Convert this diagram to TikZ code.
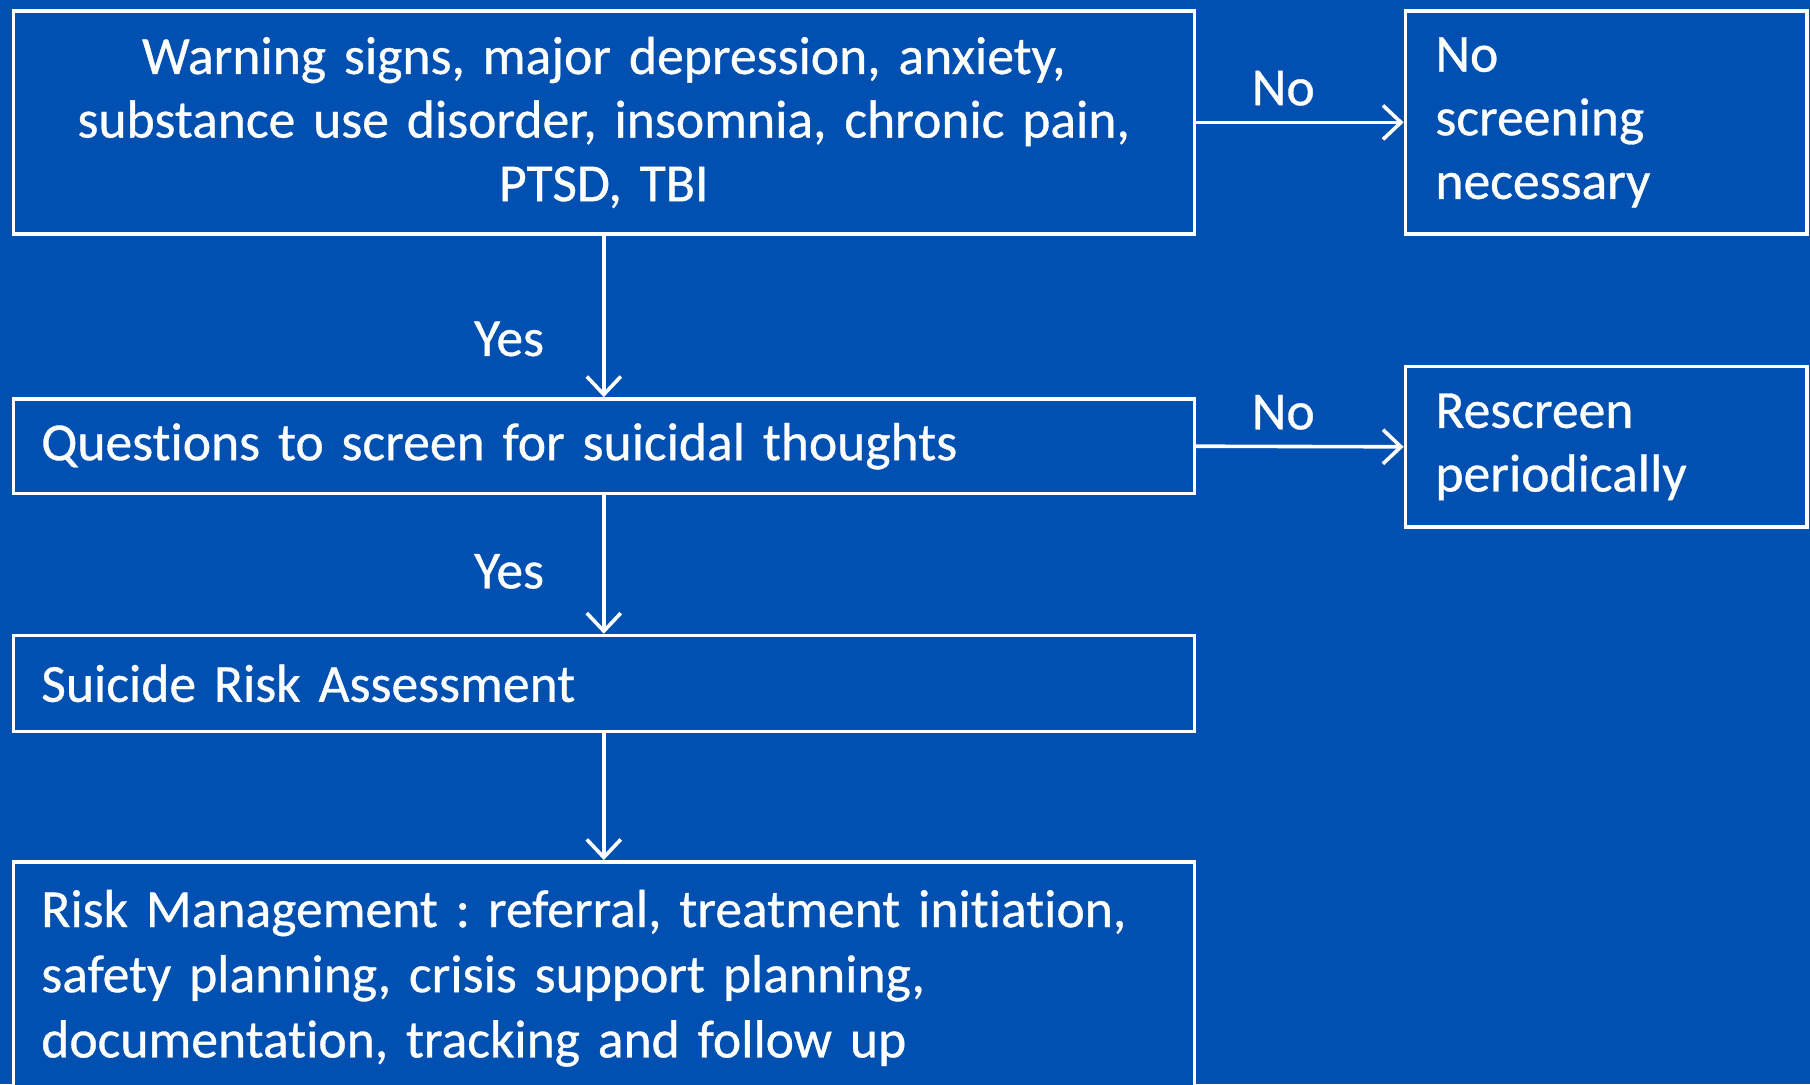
\documentclass[tikz,border=0pt]{standalone}
\usepackage{fontspec}
\setmainfont[FakeBold=0.6, Ligatures=NoCommon]{Carlito}
\usetikzlibrary{arrows.meta}
\definecolor{bg}{RGB}{0,80,177}
\frenchspacing
\begin{document}
\begin{tikzpicture}[x=0.5pt,y=-0.5pt,
  every node/.style={text=white, font=\fontsize{26.8}{31.8}\selectfont\frenchspacing},
  box/.style={draw=white, line width=1.8pt, fill=bg, anchor=north west, inner ysep=0pt},
  wide/.style={box, minimum width=590.5pt, inner xsep=14pt, text width=562.5pt},
  side/.style={box, minimum width=200.8pt, inner xsep=15pt, text width=170.8pt, align=left},
  conn/.style={draw=white, line width=1.8pt, -{Straight Barb[length=9pt,width=17pt,line width=1.8pt]}},
  lbl/.style={inner sep=0pt}]
\fill[bg] (0,0) rectangle (1810,1084);
\useasboundingbox (0,0) rectangle (1810,1084);
\clip (0,0) rectangle (1810,1084);

\node[wide, minimum height=111.4pt, align=center] (b1) at (11.5,9.2)
  {Warning signs, major depression, anxiety,\\ substance use disorder, insomnia, chronic pain,\\ PTSD, TBI};
\node[side, minimum height=111.4pt] (ns) at (1403.6,9.2)
  {No\\ screening\\ necessary};
\node[wide, minimum height=47.3pt, align=left] (b2) at (11.5,397.1)
  {Questions to screen for suicidal thoughts};
\node[side, minimum height=80.2pt] (rs) at (1403.6,364.8)
  {Rescreen\\ periodically};
\node[wide, minimum height=47.9pt, align=left] (b3) at (11.5,633.7)
  {Suicide Risk Assessment};
\node[wide, inner ysep=14pt, align=left, font=\fontsize{26.8}{32.6}\selectfont\frenchspacing] (b4) at (11.5,860)
  {Risk Management : referral, treatment initiation,\\ safety planning, crisis support planning,\\ documentation, tracking and follow up\\[12pt]\strut};

\draw[conn] (b1.south) -- node[lbl, left=29pt, pos=0.64] (y1) {Yes} (b2.north);
\draw[conn] (b2.south) -- node[lbl, left=29pt, pos=0.55] (y2) {Yes} (b3.north);
\draw[conn] (b3.south) -- (b4.north);
\draw[conn] (b1.east) -- node[lbl, above=7.5pt, pos=0.42] (n1) {No} (ns.west);
\draw[conn] (b2.east) -- node[lbl, above=7.5pt, pos=0.42] (n2) {No} (rs.west);
\end{tikzpicture}
\end{document}
